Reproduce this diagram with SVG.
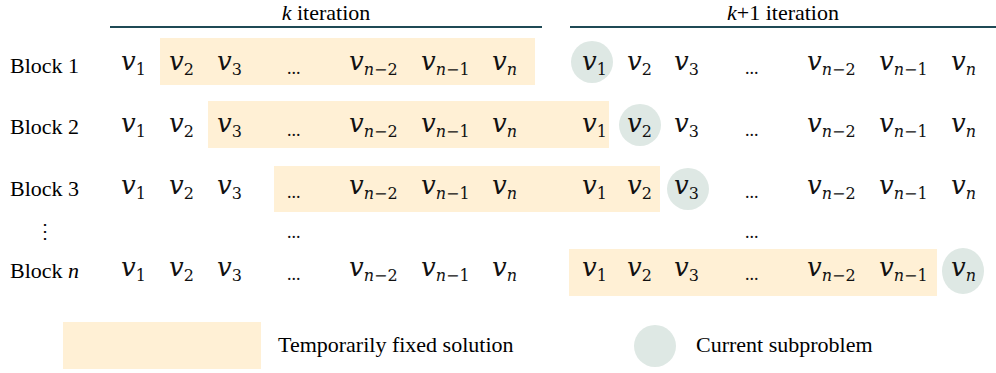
<svg xmlns="http://www.w3.org/2000/svg" width="996" height="373" viewBox="0 0 996 373" font-family="'Liberation Serif', serif">
<rect width="996" height="373" fill="#fff"/>
<g id="headers" font-family="'Liberation Serif', serif" font-size="22">
<line x1="110" y1="27" x2="542" y2="27" stroke="#1F4A55" stroke-width="2"/>
<line x1="570" y1="27" x2="996" y2="27" stroke="#1F4A55" stroke-width="2"/>
<text x="326" y="20" text-anchor="middle" font-family="'Liberation Serif', serif" font-size="22"><tspan font-style="italic">k</tspan> iteration</text>
<text x="783" y="20" text-anchor="middle" font-family="'Liberation Serif', serif" font-size="22"><tspan font-style="italic">k</tspan>+1 iteration</text>
</g>
<g id="block1" fill="#111">
<rect x="160" y="38" width="375" height="47" fill="#FFF0D5"/>
<circle cx="592" cy="62" r="21" fill="#DEE8E4"/>
<text x="10" y="73" font-family="'Liberation Serif', serif" font-size="22" fill="#000">Block 1</text>
<text x="121" y="70" font-family="'DejaVu Serif', serif" font-size="26" font-style="italic">v<tspan dy="5" font-size="16" font-style="normal">1</tspan></text>
<text x="169" y="70" font-family="'DejaVu Serif', serif" font-size="26" font-style="italic">v<tspan dy="5" font-size="16" font-style="normal">2</tspan></text>
<text x="217" y="70" font-family="'DejaVu Serif', serif" font-size="26" font-style="italic">v<tspan dy="5" font-size="16" font-style="normal">3</tspan></text>
<text x="287" y="74" font-family="'Liberation Serif', serif" font-size="18">...</text>
<text x="349" y="70" font-family="'DejaVu Serif', serif" font-size="26" font-style="italic">v<tspan dy="5" font-size="16">n</tspan><tspan font-size="16" font-style="normal">−2</tspan></text>
<text x="421" y="70" font-family="'DejaVu Serif', serif" font-size="26" font-style="italic">v<tspan dy="5" font-size="16">n</tspan><tspan font-size="16" font-style="normal">−1</tspan></text>
<text x="492" y="70" font-family="'DejaVu Serif', serif" font-size="26" font-style="italic">v<tspan dy="5" font-size="16">n</tspan></text>
<text x="582" y="70" font-family="'DejaVu Serif', serif" font-size="26" font-style="italic">v<tspan dy="5" font-size="16" font-style="normal">1</tspan></text>
<text x="627" y="70" font-family="'DejaVu Serif', serif" font-size="26" font-style="italic">v<tspan dy="5" font-size="16" font-style="normal">2</tspan></text>
<text x="674" y="70" font-family="'DejaVu Serif', serif" font-size="26" font-style="italic">v<tspan dy="5" font-size="16" font-style="normal">3</tspan></text>
<text x="745" y="74" font-family="'Liberation Serif', serif" font-size="18">...</text>
<text x="807" y="70" font-family="'DejaVu Serif', serif" font-size="26" font-style="italic">v<tspan dy="5" font-size="16">n</tspan><tspan font-size="16" font-style="normal">−2</tspan></text>
<text x="879" y="70" font-family="'DejaVu Serif', serif" font-size="26" font-style="italic">v<tspan dy="5" font-size="16">n</tspan><tspan font-size="16" font-style="normal">−1</tspan></text>
<text x="951" y="70" font-family="'DejaVu Serif', serif" font-size="26" font-style="italic">v<tspan dy="5" font-size="16">n</tspan></text>
</g>
<g id="block2" fill="#111">
<rect x="208" y="101" width="401" height="47" fill="#FFF0D5"/>
<circle cx="640" cy="125" r="21" fill="#DEE8E4"/>
<text x="10" y="134" font-family="'Liberation Serif', serif" font-size="22" fill="#000">Block 2</text>
<text x="121" y="132" font-family="'DejaVu Serif', serif" font-size="26" font-style="italic">v<tspan dy="5" font-size="16" font-style="normal">1</tspan></text>
<text x="169" y="132" font-family="'DejaVu Serif', serif" font-size="26" font-style="italic">v<tspan dy="5" font-size="16" font-style="normal">2</tspan></text>
<text x="217" y="132" font-family="'DejaVu Serif', serif" font-size="26" font-style="italic">v<tspan dy="5" font-size="16" font-style="normal">3</tspan></text>
<text x="287" y="136" font-family="'Liberation Serif', serif" font-size="18">...</text>
<text x="349" y="132" font-family="'DejaVu Serif', serif" font-size="26" font-style="italic">v<tspan dy="5" font-size="16">n</tspan><tspan font-size="16" font-style="normal">−2</tspan></text>
<text x="421" y="132" font-family="'DejaVu Serif', serif" font-size="26" font-style="italic">v<tspan dy="5" font-size="16">n</tspan><tspan font-size="16" font-style="normal">−1</tspan></text>
<text x="492" y="132" font-family="'DejaVu Serif', serif" font-size="26" font-style="italic">v<tspan dy="5" font-size="16">n</tspan></text>
<text x="582" y="132" font-family="'DejaVu Serif', serif" font-size="26" font-style="italic">v<tspan dy="5" font-size="16" font-style="normal">1</tspan></text>
<text x="627" y="132" font-family="'DejaVu Serif', serif" font-size="26" font-style="italic">v<tspan dy="5" font-size="16" font-style="normal">2</tspan></text>
<text x="674" y="132" font-family="'DejaVu Serif', serif" font-size="26" font-style="italic">v<tspan dy="5" font-size="16" font-style="normal">3</tspan></text>
<text x="745" y="136" font-family="'Liberation Serif', serif" font-size="18">...</text>
<text x="807" y="132" font-family="'DejaVu Serif', serif" font-size="26" font-style="italic">v<tspan dy="5" font-size="16">n</tspan><tspan font-size="16" font-style="normal">−2</tspan></text>
<text x="879" y="132" font-family="'DejaVu Serif', serif" font-size="26" font-style="italic">v<tspan dy="5" font-size="16">n</tspan><tspan font-size="16" font-style="normal">−1</tspan></text>
<text x="951" y="132" font-family="'DejaVu Serif', serif" font-size="26" font-style="italic">v<tspan dy="5" font-size="16">n</tspan></text>
</g>
<g id="block3" fill="#111">
<rect x="274" y="166" width="386" height="46" fill="#FFF0D5"/>
<circle cx="688" cy="189" r="21" fill="#DEE8E4"/>
<text x="10" y="196" font-family="'Liberation Serif', serif" font-size="22" fill="#000">Block 3</text>
<text x="121" y="194" font-family="'DejaVu Serif', serif" font-size="26" font-style="italic">v<tspan dy="5" font-size="16" font-style="normal">1</tspan></text>
<text x="169" y="194" font-family="'DejaVu Serif', serif" font-size="26" font-style="italic">v<tspan dy="5" font-size="16" font-style="normal">2</tspan></text>
<text x="217" y="194" font-family="'DejaVu Serif', serif" font-size="26" font-style="italic">v<tspan dy="5" font-size="16" font-style="normal">3</tspan></text>
<text x="287" y="198" font-family="'Liberation Serif', serif" font-size="18">...</text>
<text x="349" y="194" font-family="'DejaVu Serif', serif" font-size="26" font-style="italic">v<tspan dy="5" font-size="16">n</tspan><tspan font-size="16" font-style="normal">−2</tspan></text>
<text x="421" y="194" font-family="'DejaVu Serif', serif" font-size="26" font-style="italic">v<tspan dy="5" font-size="16">n</tspan><tspan font-size="16" font-style="normal">−1</tspan></text>
<text x="492" y="194" font-family="'DejaVu Serif', serif" font-size="26" font-style="italic">v<tspan dy="5" font-size="16">n</tspan></text>
<text x="582" y="194" font-family="'DejaVu Serif', serif" font-size="26" font-style="italic">v<tspan dy="5" font-size="16" font-style="normal">1</tspan></text>
<text x="627" y="194" font-family="'DejaVu Serif', serif" font-size="26" font-style="italic">v<tspan dy="5" font-size="16" font-style="normal">2</tspan></text>
<text x="674" y="194" font-family="'DejaVu Serif', serif" font-size="26" font-style="italic">v<tspan dy="5" font-size="16" font-style="normal">3</tspan></text>
<text x="745" y="198" font-family="'Liberation Serif', serif" font-size="18">...</text>
<text x="807" y="194" font-family="'DejaVu Serif', serif" font-size="26" font-style="italic">v<tspan dy="5" font-size="16">n</tspan><tspan font-size="16" font-style="normal">−2</tspan></text>
<text x="879" y="194" font-family="'DejaVu Serif', serif" font-size="26" font-style="italic">v<tspan dy="5" font-size="16">n</tspan><tspan font-size="16" font-style="normal">−1</tspan></text>
<text x="951" y="194" font-family="'DejaVu Serif', serif" font-size="26" font-style="italic">v<tspan dy="5" font-size="16">n</tspan></text>
</g>
<g id="ellipsis-row" fill="#111">
<text x="35" y="238" font-family="'DejaVu Serif', serif" font-size="20">⋮</text>
<text x="287" y="238" font-family="'Liberation Serif', serif" font-size="18">...</text>
<text x="745" y="238" font-family="'Liberation Serif', serif" font-size="18">...</text>
</g>
<g id="blockn" fill="#111">
<rect x="569" y="249" width="368" height="47" fill="#FFF0D5"/>
<ellipse cx="963" cy="271" rx="21" ry="23" fill="#DEE8E4"/>
<text x="10" y="278" font-family="'Liberation Serif', serif" font-size="22" fill="#000">Block <tspan font-style="italic">n</tspan></text>
<text x="121" y="276" font-family="'DejaVu Serif', serif" font-size="26" font-style="italic">v<tspan dy="5" font-size="16" font-style="normal">1</tspan></text>
<text x="169" y="276" font-family="'DejaVu Serif', serif" font-size="26" font-style="italic">v<tspan dy="5" font-size="16" font-style="normal">2</tspan></text>
<text x="217" y="276" font-family="'DejaVu Serif', serif" font-size="26" font-style="italic">v<tspan dy="5" font-size="16" font-style="normal">3</tspan></text>
<text x="287" y="280" font-family="'Liberation Serif', serif" font-size="18">...</text>
<text x="349" y="276" font-family="'DejaVu Serif', serif" font-size="26" font-style="italic">v<tspan dy="5" font-size="16">n</tspan><tspan font-size="16" font-style="normal">−2</tspan></text>
<text x="421" y="276" font-family="'DejaVu Serif', serif" font-size="26" font-style="italic">v<tspan dy="5" font-size="16">n</tspan><tspan font-size="16" font-style="normal">−1</tspan></text>
<text x="492" y="276" font-family="'DejaVu Serif', serif" font-size="26" font-style="italic">v<tspan dy="5" font-size="16">n</tspan></text>
<text x="582" y="276" font-family="'DejaVu Serif', serif" font-size="26" font-style="italic">v<tspan dy="5" font-size="16" font-style="normal">1</tspan></text>
<text x="627" y="276" font-family="'DejaVu Serif', serif" font-size="26" font-style="italic">v<tspan dy="5" font-size="16" font-style="normal">2</tspan></text>
<text x="674" y="276" font-family="'DejaVu Serif', serif" font-size="26" font-style="italic">v<tspan dy="5" font-size="16" font-style="normal">3</tspan></text>
<text x="745" y="280" font-family="'Liberation Serif', serif" font-size="18">...</text>
<text x="807" y="276" font-family="'DejaVu Serif', serif" font-size="26" font-style="italic">v<tspan dy="5" font-size="16">n</tspan><tspan font-size="16" font-style="normal">−2</tspan></text>
<text x="879" y="276" font-family="'DejaVu Serif', serif" font-size="26" font-style="italic">v<tspan dy="5" font-size="16">n</tspan><tspan font-size="16" font-style="normal">−1</tspan></text>
<text x="951" y="276" font-family="'DejaVu Serif', serif" font-size="26" font-style="italic">v<tspan dy="5" font-size="16">n</tspan></text>
</g>
<g id="legend">
<rect x="63" y="322" width="198" height="47" fill="#FFF0D5"/>
<circle cx="655" cy="346" r="21" fill="#DEE8E4"/>
<text x="278" y="352" font-family="'Liberation Serif', serif" font-size="22">Temporarily fixed solution</text>
<text x="696" y="352" font-family="'Liberation Serif', serif" font-size="22">Current subproblem</text>
</g>
<g id="connectors"></g>
</svg>
